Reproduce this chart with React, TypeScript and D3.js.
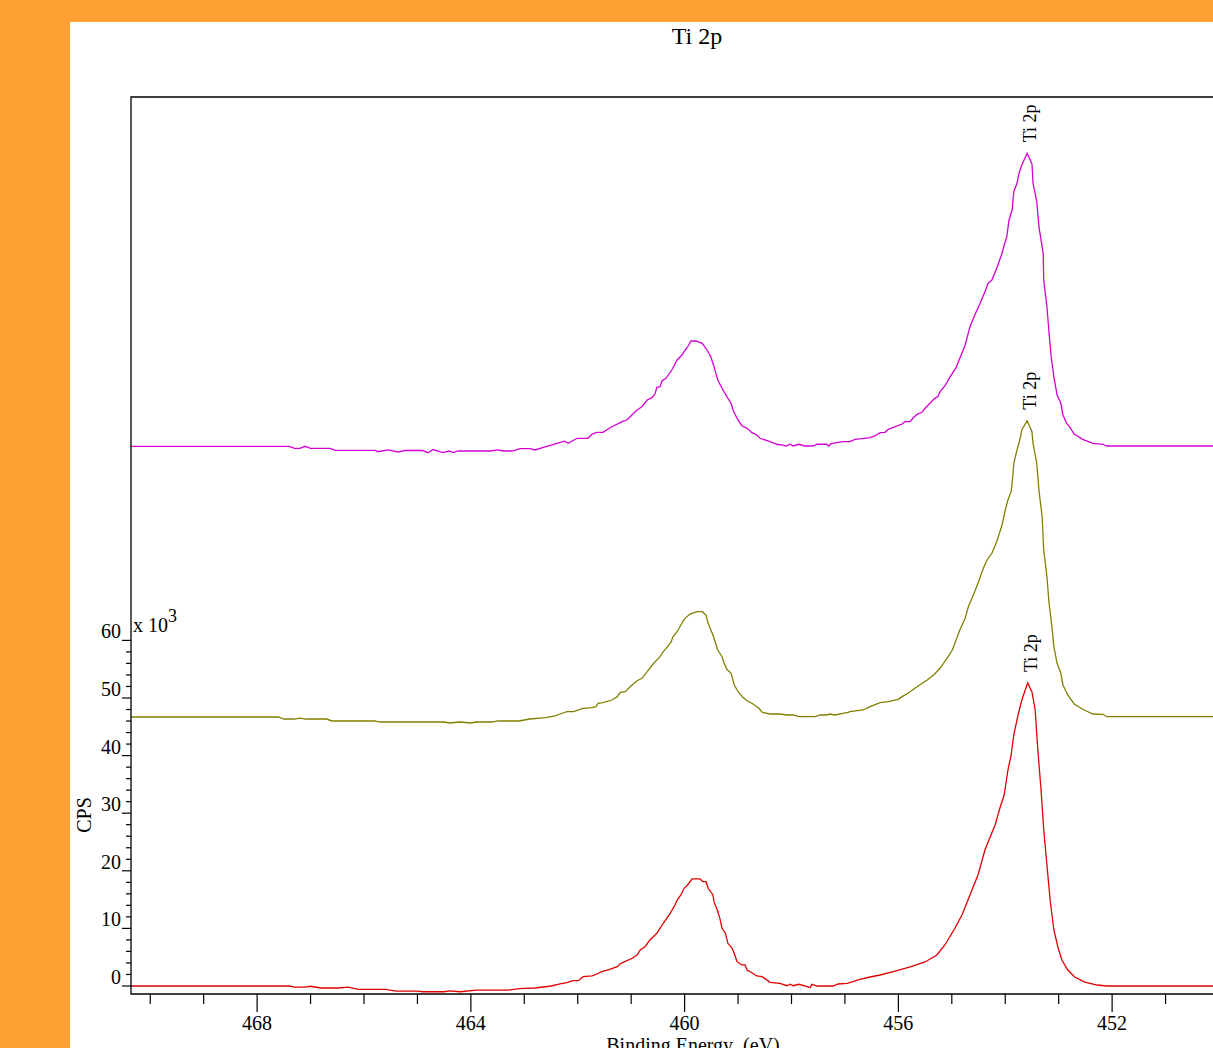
import React from 'react';
import * as d3 from 'd3';

// Ti 2p spectra, three samples stacked (binding energy in eV, counts in x10^3 CPS)
const magentaSpectrum: [number, number][] = [
  [470.36, 93.7], [467.4, 93.7], [467.3, 93.35], [467.2, 93.35], [467.1, 93.7], [467.0, 93.35],
  [466.63, 93.35], [466.54, 93.0], [465.79, 93.0], [465.74, 92.76], [465.55, 93.06], [465.36, 92.71],
  [465.23, 92.97], [464.91, 92.97], [464.8, 92.59], [464.71, 93.14], [464.52, 92.62], [464.41, 92.88],
  [464.33, 92.59], [464.24, 92.88], [463.64, 92.88], [463.49, 93.06], [463.4, 92.88], [463.23, 92.88],
  [463.08, 93.28], [462.89, 93.28], [462.8, 93.06], [462.61, 93.58], [462.42, 94.1], [462.25, 94.6],
  [462.18, 94.22], [462.01, 95.09], [461.81, 95.09], [461.73, 95.83], [461.64, 96.13], [461.53, 96.13],
  [461.36, 97.1], [461.17, 97.97], [461.08, 98.26], [460.89, 100.0], [460.8, 100.57], [460.7, 101.74],
  [460.61, 102.14], [460.55, 102.9], [460.52, 103.94], [460.46, 104.05], [460.42, 105.09], [460.35, 105.5],
  [460.24, 106.94], [460.14, 108.68], [460.05, 109.55], [459.99, 110.42], [459.94, 110.99], [459.88, 111.98],
  [459.79, 111.98], [459.67, 111.58], [459.58, 110.42], [459.51, 109.25], [459.45, 107.52], [459.38, 105.21],
  [459.3, 103.77], [459.21, 102.31], [459.13, 101.16], [459.09, 99.88], [459.02, 98.56], [458.93, 97.27],
  [458.83, 96.82], [458.74, 96.06], [458.65, 95.66], [458.59, 95.09], [458.44, 94.62], [458.27, 94.05],
  [458.16, 93.92], [458.1, 93.75], [458.03, 94.05], [457.97, 93.75], [457.86, 94.05], [457.75, 93.75],
  [457.6, 93.75], [457.52, 94.05], [457.34, 94.05], [457.3, 93.75], [457.26, 94.15], [457.04, 94.5],
  [456.91, 94.5], [456.81, 94.91], [456.72, 94.97], [456.53, 95.19], [456.44, 95.49], [456.34, 96.06],
  [456.25, 96.13], [456.19, 96.65], [456.06, 97.1], [455.93, 97.57], [455.88, 97.97], [455.78, 97.97],
  [455.73, 98.56], [455.65, 99.25], [455.56, 99.6], [455.5, 100.3], [455.41, 101.16], [455.32, 102.03],
  [455.26, 102.31], [455.22, 103.18], [455.13, 104.17], [455.03, 105.78], [454.92, 107.34], [454.85, 108.98],
  [454.75, 111.28], [454.66, 114.46], [454.57, 116.49], [454.47, 118.52], [454.38, 120.54], [454.32, 122.0],
  [454.25, 122.57], [454.16, 124.6], [454.06, 127.2], [454.02, 128.65], [453.97, 130.09], [453.95, 131.55],
  [453.93, 132.99], [453.87, 134.72], [453.86, 135.89], [453.84, 137.9], [453.78, 139.36], [453.74, 141.15],
  [453.69, 142.53], [453.59, 144.57], [453.5, 142.71], [453.48, 139.36], [453.41, 136.16], [453.37, 131.82],
  [453.29, 127.2], [453.28, 122.57], [453.22, 117.93], [453.18, 113.32], [453.14, 109.25], [453.09, 105.78],
  [453.03, 102.6], [452.96, 101.16], [452.92, 99.13], [452.85, 97.69], [452.79, 97.0], [452.71, 95.83],
  [452.55, 94.91], [452.36, 94.22], [452.17, 94.05], [452.1, 93.75], [450.0, 93.75],
];

const oliveSpectrum: [number, number][] = [
  [470.36, 46.7], [467.6, 46.7], [467.5, 46.35], [467.3, 46.35], [467.2, 46.5], [467.1, 46.35],
  [466.7, 46.35], [466.6, 46.01], [465.8, 46.01], [465.7, 45.83], [464.5, 45.83], [464.4, 45.66],
  [464.2, 45.83], [464.0, 45.66], [463.9, 45.83], [463.6, 45.83], [463.5, 46.01], [463.1, 46.01],
  [462.9, 46.35], [462.6, 46.6], [462.42, 46.88], [462.33, 47.22], [462.2, 47.62], [462.08, 47.62],
  [461.9, 48.21], [461.73, 48.32], [461.66, 48.49], [461.62, 49.08], [461.53, 49.18], [461.36, 49.65],
  [461.26, 50.23], [461.21, 50.92], [461.11, 51.09], [461.02, 51.96], [460.89, 53.0], [460.8, 53.42],
  [460.7, 54.57], [460.59, 55.9], [460.46, 57.17], [460.4, 58.04], [460.33, 58.8], [460.25, 59.77],
  [460.22, 60.64], [460.14, 61.51], [460.08, 62.5], [460.01, 63.66], [459.9, 64.58], [459.77, 64.98],
  [459.67, 64.98], [459.6, 64.41], [459.56, 62.97], [459.47, 60.94], [459.38, 58.33], [459.3, 57.17],
  [459.26, 56.02], [459.21, 54.98], [459.13, 54.29], [459.07, 52.26], [459.0, 51.09], [458.91, 50.12],
  [458.83, 49.53], [458.74, 49.08], [458.61, 48.21], [458.55, 47.52], [458.4, 47.22], [458.21, 47.22],
  [458.08, 47.05], [457.97, 47.05], [457.86, 46.75], [457.56, 46.75], [457.46, 47.05], [457.34, 47.05],
  [457.28, 47.22], [457.19, 47.05], [457.04, 47.34], [456.94, 47.52], [456.91, 47.62], [456.66, 47.92],
  [456.53, 48.49], [456.34, 49.18], [456.19, 49.36], [456.0, 49.77], [455.93, 50.23], [455.82, 50.82],
  [455.65, 51.96], [455.46, 53.13], [455.34, 53.99], [455.22, 55.16], [455.09, 56.89], [454.99, 58.33],
  [454.92, 60.07], [454.85, 61.81], [454.75, 63.84], [454.69, 65.85], [454.58, 68.28], [454.51, 69.91],
  [454.41, 72.52], [454.34, 73.96], [454.25, 75.12], [454.16, 77.14], [454.06, 80.03], [454.0, 82.64],
  [453.95, 84.38], [453.89, 85.82], [453.86, 88.42], [453.84, 90.75], [453.78, 93.06], [453.72, 95.09],
  [453.69, 96.53], [453.59, 98.14], [453.5, 96.23], [453.48, 94.22], [453.41, 90.75], [453.37, 86.11],
  [453.31, 81.48], [453.28, 75.69], [453.22, 71.06], [453.18, 66.44], [453.12, 61.81], [453.09, 58.91],
  [453.03, 56.02], [452.96, 54.29], [452.92, 52.26], [452.83, 50.52], [452.71, 48.96], [452.55, 48.04],
  [452.36, 47.22], [452.17, 47.17], [452.1, 46.75], [450.0, 46.75],
];

const redSpectrum: [number, number][] = [
  [470.36, 0], [467.4, 0], [467.3, -0.2], [467.1, -0.2], [467.0, -0.05], [466.8, -0.35],
  [466.5, -0.35], [466.3, -0.2], [466.1, -0.6], [465.6, -0.6], [465.4, -0.9], [465.0, -0.9],
  [464.9, -1.0], [464.5, -1.0], [464.4, -0.85], [464.2, -1.0], [463.9, -0.7], [463.3, -0.7],
  [463.1, -0.45], [462.8, -0.35], [462.5, 0.0], [462.33, 0.35], [462.2, 0.57], [462.09, 0.92],
  [461.99, 0.92], [461.9, 1.61], [461.73, 1.74], [461.64, 2.08], [461.55, 2.48], [461.43, 2.78],
  [461.26, 3.35], [461.21, 3.82], [461.12, 4.22], [460.98, 4.81], [460.89, 5.38], [460.83, 6.25],
  [460.74, 6.82], [460.65, 7.99], [460.52, 9.15], [460.4, 10.89], [460.27, 12.62], [460.18, 14.06],
  [460.14, 14.93], [460.07, 15.8], [460.01, 16.96], [459.96, 17.36], [459.86, 18.58], [459.71, 18.58],
  [459.66, 18.11], [459.6, 18.11], [459.56, 16.96], [459.47, 15.8], [459.45, 14.64], [459.39, 13.19],
  [459.34, 11.75], [459.3, 10.02], [459.24, 9.25], [459.19, 7.41], [459.11, 6.55], [459.06, 5.38],
  [459.02, 4.22], [458.93, 3.65], [458.87, 3.65], [458.83, 2.78], [458.74, 2.31], [458.65, 1.74],
  [458.55, 1.61], [458.4, 0.64], [458.22, 0.47], [458.08, 0.05], [458.03, 0.3], [457.97, 0.05],
  [457.86, 0.3], [457.75, 0.0], [457.65, -0.3], [457.62, 0.3], [457.52, 0.0], [457.22, 0.0],
  [457.13, 0.35], [456.96, 0.47], [456.85, 0.75], [456.72, 1.16], [456.53, 1.56], [456.34, 1.91],
  [456.06, 2.6], [455.78, 3.3], [455.5, 4.17], [455.28, 5.38], [455.13, 7.12], [454.94, 10.07],
  [454.81, 12.33], [454.66, 15.8], [454.51, 19.27], [454.38, 23.61], [454.29, 25.69], [454.19, 27.95],
  [454.1, 30.9], [454.02, 33.16], [453.95, 37.5], [453.89, 40.1], [453.84, 43.58], [453.76, 47.05],
  [453.69, 49.65], [453.58, 52.6], [453.5, 51.04], [453.44, 47.92], [453.39, 40.97], [453.33, 34.03],
  [453.28, 27.08], [453.22, 21.0], [453.16, 14.93], [453.09, 9.72], [453.01, 6.6], [452.94, 4.51],
  [452.83, 2.78], [452.7, 1.56], [452.51, 0.69], [452.28, 0.17], [452.1, 0], [450.0, 0],
];

const series = [
  { name: 'magenta', color: '#d400d4', data: magentaSpectrum },
  { name: 'olive', color: '#808000', data: oliveSpectrum },
  { name: 'red', color: '#e00000', data: redSpectrum },
];

const title = 'Ti 2p';
const peakLabel = 'Ti 2p';
const xTitle = 'Binding Energy  (eV)';
const yTitle = 'CPS';
const xLabelTicks = [468, 464, 460, 456, 452];
const yLabelTicks = [0, 10, 20, 30, 40, 50, 60];

const W = 1213;
const H = 1048;
const left = 131;
const top = 97;
const bottom = 994;
const right = 1219;
const font = '"Liberation Serif", "Times New Roman", serif';

const App = () => {
  const x = d3.scaleLinear().domain([470.36, 450]).range([left, right]);
  const y = d3.scaleLinear().domain([-1.39, 154.34]).range([bottom, top]);
  const line = d3.line<[number, number]>().x(d => x(d[0])).y(d => y(d[1]));

  const xMinor = d3.range(470, 449, -1);
  const yMinor = d3.range(0, 61, 2);

  return (
    <div style={{ position: 'absolute', left: 0, top: 0, width: W, height: H, overflow: 'hidden' }}>
      <svg width={W} height={H} style={{ display: 'block' }} fontFamily={font}>
        <defs>
          <clipPath id="plot">
            <rect x={left} y={top} width={right - left} height={bottom - top} />
          </clipPath>
        </defs>
        <rect x={0} y={0} width={W} height={H} fill="#ffa033" />
        <rect x={70} y={22} width={W - 70} height={H - 22} fill="#fff" />

        <text x={697} y={44} fontSize={24} textAnchor="middle">{title}</text>

        <g clipPath="url(#plot)">
          {series.map(s => (
            <path key={s.name} d={line(s.data) || ''} fill="none" stroke={s.color} strokeWidth={1.3} />
          ))}
        </g>

        {series.map(s => {
          const pk = d3.greatest(s.data, d => d[1])!;
          const px = x(pk[0]);
          const py = y(pk[1]);
          return (
            <text key={s.name} transform={`translate(${px + 9},${py - 11}) rotate(-90)`} fontSize={18}>
              {peakLabel}
            </text>
          );
        })}

        {/* frame */}
        <path d={`M${right},${top}H${left}V${bottom}H${right}`} fill="none" stroke="#000" strokeWidth={1.3} />

        {/* x axis ticks */}
        {xMinor.map(t => (
          <line key={t} x1={x(t)} x2={x(t)} y1={bottom} y2={xLabelTicks.includes(t) ? bottom + 18 : bottom + 10}
            stroke="#000" strokeWidth={1.2} />
        ))}
        {xLabelTicks.map(t => (
          <text key={t} x={x(t)} y={1030} fontSize={20} textAnchor="middle">{t}</text>
        ))}
        <text x={693} y={1052} fontSize={20} textAnchor="middle" style={{ whiteSpace: 'pre' }}>{xTitle}</text>

        {/* y axis ticks */}
        {yMinor.map(t => (
          <line key={t} x1={yLabelTicks.includes(t) ? left - 9 : left - 5} x2={left} y1={y(t)} y2={y(t)}
            stroke="#000" strokeWidth={1.2} />
        ))}
        {yLabelTicks.map(t => (
          <text key={t} x={left - 10} y={y(t) - 2} fontSize={20} textAnchor="end">{t}</text>
        ))}
        <text x={133} y={632} fontSize={20}>
          x 10<tspan dy={-10} fontSize={18}>3</tspan>
        </text>
        <text transform={`translate(91,815) rotate(-90)`} fontSize={20} textAnchor="middle">{yTitle}</text>
      </svg>
    </div>
  );
};

export default App;
